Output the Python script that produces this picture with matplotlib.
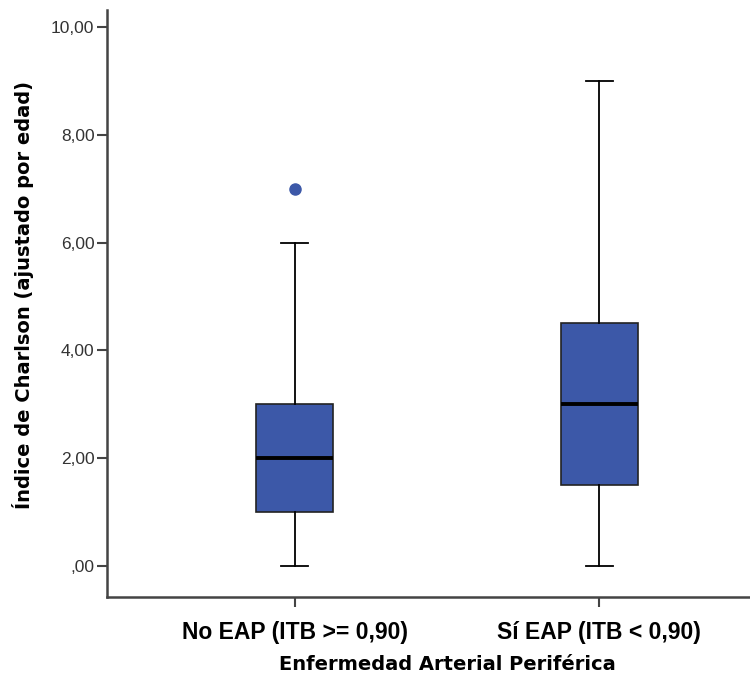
import matplotlib
matplotlib.use("Agg")
import matplotlib.pyplot as plt

categories = ["No EAP (ITB >= 0,90)", "Sí EAP (ITB < 0,90)"]
whislo = [0.0, 0.0]
q1 = [1.0, 1.5]
med = [2.0, 3.0]
q3 = [3.0, 4.5]
whishi = [6.0, 9.0]
outliers = [[7.0], []]
yticks = [0, 2, 4, 6, 8, 10]
ytick_labels = [",00", "2,00", "4,00", "6,00", "8,00", "10,00"]

box_color = "#3c58a8"

fig = plt.figure(figsize=(7.5, 6.81), dpi=100)
ax = fig.add_axes([107/750, 1 - 597/681, (749-107)/750, (597-10)/681])

stats = []
for i, lab in enumerate(categories):
    stats.append(dict(label=lab, whislo=whislo[i], q1=q1[i], med=med[i],
                      q3=q3[i], whishi=whishi[i], fliers=outliers[i]))

ax.bxp(stats, positions=[1, 2], widths=0.252, patch_artist=True,
       capwidths=0.0885,
       boxprops=dict(facecolor=box_color, edgecolor="#222222", linewidth=1.2),
       medianprops=dict(color="black", linewidth=2.8),
       whiskerprops=dict(color="black", linewidth=1.3),
       capprops=dict(color="black", linewidth=1.3),
       flierprops=dict(marker="o", markerfacecolor=box_color,
                       markeredgecolor=box_color, markersize=8))

ax.set_xlim(1 - 188/305, 2 + 150/305)
ax.set_ylim(-0.575, 10.315)
ax.set_yticks(yticks)
ax.set_yticklabels(ytick_labels, fontsize=12.5, color="#333333",
                   family=["Liberation Sans", "DejaVu Sans"])
ax.set_xticks([1, 2])
ax.set_xticklabels(categories, fontsize=16.5, fontweight="bold",
                   family=["Liberation Sans Narrow", "Liberation Sans", "DejaVu Sans"])

for s in ["top", "right"]:
    ax.spines[s].set_visible(False)
for s in ["left", "bottom"]:
    ax.spines[s].set_linewidth(1.8)
    ax.spines[s].set_color("#444444")
ax.tick_params(axis="both", direction="out", length=7, width=1.5, color="#444444")
ax.tick_params(axis="x", pad=10)
ax.tick_params(axis="y", pad=2)

ax.set_ylabel("Índice de Charlson (ajustado por edad)", fontsize=14,
              fontweight="bold", family=["DejaVu Sans"])
ax.set_xlabel("Enfermedad Arterial Periférica", fontsize=14,
              fontweight="bold", family=["DejaVu Sans"])
ax.yaxis.set_label_coords(-(107 - 23) / 642, (597 - 295) / 587)
ax.xaxis.set_label_coords((447 - 107) / 642, -(665 - 597) / 587)
ax.xaxis.label.set_va("center")
ax.yaxis.label.set_va("center")

fig.savefig("out.png", dpi=100)
